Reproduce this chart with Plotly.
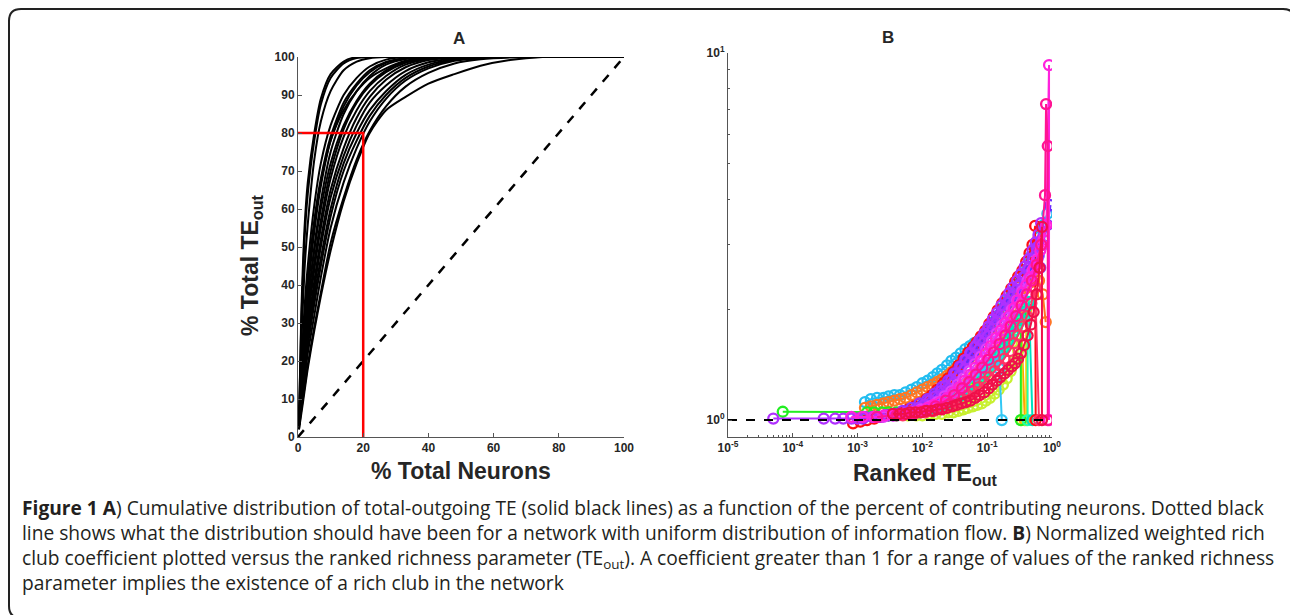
import plotly.graph_objects as go

W, H = 1290, 615

# ---------------- Panel A data ----------------
A_X = [0.3, 1, 2, 3, 5, 7, 10, 14, 18, 22, 27, 33, 40, 48, 56, 65, 75, 100]
A_CURVES = [
    [4, 32, 55, 67, 80, 89, 95.5, 98.8, 100, 100, 100, 100, 100, 100, 100, 100, 100, 100],
    [4, 30, 52, 64, 78, 87.5, 94.5, 98.3, 99.7, 100, 100, 100, 100, 100, 100, 100, 100, 100],
    [3, 24, 44, 56, 73, 83, 91, 96.5, 98.8, 99.7, 100, 100, 100, 100, 100, 100, 100, 100],
    [3, 18, 34, 45, 61, 72, 82, 90, 94.5, 97.5, 99.3, 100, 100, 100, 100, 100, 100, 100],
    [3, 16, 30, 41, 57, 68, 79, 88, 93, 96.5, 98.7, 99.7, 100, 100, 100, 100, 100, 100],
    [3, 15, 28, 38, 54, 66, 78, 87, 92.5, 96, 98.5, 99.6, 100, 100, 100, 100, 100, 100],
    [4, 17, 31, 41, 56, 67, 78, 86, 91, 94.5, 97, 99, 99.8, 100, 100, 100, 100, 100],
    [3, 13, 25, 35, 50, 62, 75, 85, 91, 95, 98, 99.5, 100, 100, 100, 100, 100, 100],
    [3, 14, 26, 35, 49, 60, 72, 82, 88.5, 93, 96.5, 98.8, 99.7, 100, 100, 100, 100, 100],
    [3, 12, 23, 32, 46, 57, 70, 81, 88, 92.5, 96, 98.5, 99.6, 100, 100, 100, 100, 100],
    [3, 11, 21, 30, 44, 55, 68, 79, 86, 91, 95, 98, 99.5, 99.9, 100, 100, 100, 100],
    [3, 10, 20, 28, 41, 52, 65, 76, 84, 89.5, 94, 97.3, 99.2, 99.9, 100, 100, 100, 100],
    [3, 10, 19, 27, 39, 50, 63, 74, 82, 88, 92.5, 96.3, 98.6, 99.7, 100, 100, 100, 100],
    [3, 9, 18, 25, 37, 47, 60, 72, 80, 86, 91, 95.3, 98, 99.4, 99.9, 100, 100, 100],
    [3, 9, 17, 24, 35, 45, 58, 70, 78, 84.5, 90, 94.5, 97.5, 99.2, 99.8, 100, 100, 100],
    [3, 8, 15, 22, 32, 42, 55, 67, 76, 83, 89, 93.8, 97, 99, 99.7, 100, 100, 100],
    [2, 7, 13, 19, 29, 38, 51, 63, 73, 80.5, 87, 92.2, 95.8, 98.3, 99.4, 99.9, 100, 100],
    [2, 6, 12, 18, 28, 37, 49, 62, 72, 80, 86, 89.5, 93, 95.5, 97.7, 99.2, 100, 100],
]
RED_X = [0, 20, 20]
RED_Y = [80, 80, 0]
UNIFORM_X = [0, 100]
UNIFORM_Y = [0, 100]
A_TICKS = [0, 10, 20, 30, 40, 50, 60, 70, 80, 90, 100]
A_XTICKS = [0, 20, 40, 60, 80, 100]

# ---------------- Panel B data ----------------
B_SERIES = [
    ("#22BDF0",
     [0.0013, 0.0016, 0.002, 0.0025, 0.003, 0.0037, 0.0045, 0.0055, 0.0068, 0.0082, 0.01, 0.012, 0.0145, 0.017,
      0.02, 0.024, 0.028, 0.033, 0.039, 0.046, 0.054, 0.063, 0.074, 0.086, 0.1, 0.12, 0.14, 0.17, 0.2, 0.24,
      0.28, 0.33, 0.39, 0.46, 0.54, 0.63, 0.74, 0.85],
     [1.12, 1.14, 1.15, 1.15, 1.16, 1.17, 1.17, 1.19, 1.21, 1.23, 1.26, 1.28, 1.31, 1.34, 1.37, 1.41, 1.45, 1.48,
      1.52, 1.56, 1.59, 1.62, 1.65, 1.70, 1.76, 1.84, 1.92, 2.02, 2.12, 2.24, 2.36, 2.48, 2.62, 2.78, 2.95, 3.15,
      3.4, 3.65]),
    ("#FF7722",
     [0.0013, 0.0016, 0.002, 0.0025, 0.003, 0.0037, 0.0045, 0.0055, 0.0068, 0.0082, 0.01, 0.012, 0.0145, 0.017,
      0.02, 0.024, 0.028, 0.033, 0.039, 0.046, 0.054, 0.063, 0.074, 0.086, 0.1, 0.12, 0.14, 0.17, 0.2, 0.24,
      0.28, 0.33, 0.39, 0.46, 0.54, 0.63, 0.72, 0.8],
     [1.08, 1.09, 1.1, 1.11, 1.12, 1.13, 1.14, 1.15, 1.17, 1.19, 1.21, 1.23, 1.25, 1.27, 1.29, 1.32, 1.35, 1.38,
      1.41, 1.44, 1.48, 1.52, 1.56, 1.61, 1.66, 1.72, 1.79, 1.87, 1.95, 2.04, 2.12, 2.2, 2.28, 2.37, 2.45, 2.4,
      2.2, 1.85]),
    ("#FFA500",
     [0.003, 0.0045, 0.0065, 0.009, 0.012, 0.016, 0.021, 0.027, 0.034, 0.042, 0.052, 0.064, 0.078, 0.095, 0.115,
      0.14, 0.17, 0.2, 0.24, 0.28, 0.33, 0.38],
     [1.04, 1.05, 1.06, 1.08, 1.1, 1.12, 1.15, 1.18, 1.21, 1.25, 1.29, 1.33, 1.38, 1.43, 1.49, 1.55, 1.62, 1.7,
      1.78, 1.87, 1.97, 1.0]),
    ("#FFD000",
     [0.006, 0.009, 0.013, 0.018, 0.024, 0.03, 0.038, 0.047, 0.057, 0.068, 0.08, 0.095, 0.11, 0.13, 0.15, 0.17,
      0.2, 0.23, 0.26, 0.3, 0.35, 0.4, 0.4],
     [1.04, 1.05, 1.06, 1.08, 1.1, 1.12, 1.15, 1.18, 1.21, 1.25, 1.29, 1.33, 1.38, 1.44, 1.5, 1.56, 1.62, 1.68,
      1.75, 1.85, 1.95, 2.0, 1.0]),
    ("#C8F030",
     [0.004, 0.006, 0.008, 0.01, 0.013, 0.016, 0.02, 0.025, 0.03, 0.036, 0.043, 0.05, 0.06, 0.07, 0.082, 0.095,
      0.11, 0.13, 0.15, 0.175, 0.2, 0.23, 0.26, 0.3, 0.34, 0.34],
     [1.03, 1.03, 1.03, 1.03, 1.04, 1.04, 1.04, 1.05, 1.05, 1.06, 1.07, 1.08, 1.09, 1.1, 1.11, 1.13, 1.15, 1.18,
      1.21, 1.25, 1.3, 1.36, 1.45, 1.55, 1.62, 1.0]),
    ("#22EE22",
     [7e-5, 0.0014, 0.0018, 0.0024, 0.003, 0.004, 0.005, 0.0065, 0.008, 0.01, 0.0125, 0.015, 0.019, 0.023, 0.028,
      0.034, 0.041, 0.05, 0.06, 0.072, 0.086, 0.1, 0.12, 0.14, 0.165, 0.19, 0.22, 0.26, 0.3, 0.33, 0.33],
     [1.054, 1.05, 1.05, 1.05, 1.05, 1.05, 1.05, 1.05, 1.06, 1.06, 1.07, 1.08, 1.09, 1.11, 1.13, 1.15, 1.17, 1.2,
      1.23, 1.27, 1.31, 1.36, 1.42, 1.48, 1.55, 1.62, 1.7, 1.8, 1.9, 1.95, 1.0]),
    ("#22FFAA",
     [0.003, 0.0045, 0.0065, 0.009, 0.012, 0.016, 0.021, 0.027, 0.034, 0.042, 0.052, 0.063, 0.075, 0.09, 0.105,
      0.125, 0.145, 0.17, 0.2, 0.23, 0.27, 0.31, 0.36, 0.42, 0.42],
     [1.03, 1.04, 1.05, 1.06, 1.07, 1.08, 1.1, 1.12, 1.14, 1.17, 1.2, 1.24, 1.28, 1.32, 1.37, 1.42, 1.47, 1.53,
      1.6, 1.68, 1.76, 1.85, 1.95, 2.05, 1.0]),
    ("#00E0C0",
     [0.004, 0.006, 0.009, 0.013, 0.018, 0.024, 0.031, 0.04, 0.05, 0.062, 0.076, 0.092, 0.11, 0.13, 0.155, 0.18,
      0.21, 0.25, 0.29, 0.33, 0.38, 0.44, 0.5],
     [1.03, 1.04, 1.05, 1.07, 1.09, 1.11, 1.14, 1.17, 1.2, 1.24, 1.28, 1.33, 1.38, 1.44, 1.5, 1.57, 1.64, 1.72,
      1.8, 1.88, 1.97, 2.1, 1.0]),
    ("#33C8F5",
     [0.005, 0.008, 0.012, 0.017, 0.024, 0.032, 0.042, 0.055, 0.07, 0.085, 0.1, 0.12, 0.14, 0.155, 0.168],
     [1.05, 1.06, 1.08, 1.1, 1.14, 1.18, 1.22, 1.27, 1.32, 1.36, 1.4, 1.45, 1.5, 1.38, 1.0]),
    ("#FF1010",
     [0.00085, 0.0011, 0.0014, 0.0018, 0.0023, 0.003, 0.0038, 0.0048, 0.006, 0.0075, 0.0093, 0.0115, 0.014,
      0.017, 0.021, 0.025, 0.03, 0.036, 0.043, 0.051, 0.06, 0.069, 0.08, 0.093, 0.108, 0.126, 0.145, 0.17, 0.2,
      0.235, 0.27, 0.3, 0.35, 0.4, 0.45, 0.5, 0.55, 0.56],
     [0.98, 0.99, 1.0, 1.01, 1.02, 1.03, 1.04, 1.05, 1.07, 1.09, 1.11, 1.14, 1.17, 1.21, 1.26, 1.3, 1.35, 1.41,
      1.47, 1.53, 1.58, 1.63, 1.69, 1.75, 1.83, 1.91, 1.99, 2.08, 2.18, 2.28, 2.38, 2.46, 2.56, 2.7, 2.85, 3.0,
      3.38, 1.0]),
    ("#6A2BFF",
     [0.002, 0.003, 0.0042, 0.0058, 0.0078, 0.01, 0.0125, 0.015, 0.018, 0.022, 0.026, 0.031, 0.037, 0.044, 0.052,
      0.061, 0.072, 0.085, 0.1, 0.118, 0.14, 0.165, 0.195, 0.23, 0.27, 0.32, 0.38, 0.45, 0.53, 0.62, 0.72, 0.85,
      0.95],
     [1.02, 1.03, 1.04, 1.05, 1.07, 1.1, 1.13, 1.16, 1.2, 1.24, 1.28, 1.33, 1.38, 1.43, 1.48, 1.53, 1.59, 1.65,
      1.72, 1.8, 1.88, 1.97, 2.06, 2.15, 2.25, 2.35, 2.45, 2.55, 2.65, 2.8, 3.0, 3.4, 3.85]),
    ("#9933FF",
     [0.0012, 0.0018, 0.0026, 0.0036, 0.005, 0.0068, 0.009, 0.012, 0.0155, 0.02, 0.025, 0.031, 0.038, 0.046,
      0.056, 0.068, 0.082, 0.1, 0.12, 0.145, 0.175, 0.21, 0.25, 0.3, 0.36, 0.43, 0.5, 0.58, 0.66],
     [1.01, 1.02, 1.03, 1.04, 1.06, 1.08, 1.11, 1.14, 1.18, 1.23, 1.28, 1.34, 1.4, 1.46, 1.53, 1.6, 1.67, 1.75,
      1.83, 1.92, 2.0, 2.1, 2.2, 2.32, 2.45, 2.6, 2.75, 2.95, 2.6]),
    ("#B030FF",
     [5e-5, 3e-4, 4.5e-4, 6e-4, 8e-4, 0.001, 0.0013, 0.0017, 0.0022, 0.0028, 0.0035, 0.0045, 0.0056, 0.007,
      0.0087, 0.0107, 0.013, 0.016, 0.0195, 0.023, 0.028, 0.033, 0.04, 0.047, 0.055, 0.065, 0.076, 0.09, 0.105,
      0.122, 0.142, 0.165, 0.19, 0.22, 0.25, 0.29, 0.33, 0.38, 0.44, 0.5, 0.56, 0.62, 0.68],
     [1.01, 1.01, 1.01, 1.01, 1.01, 1.01, 1.02, 1.02, 1.02, 1.03, 1.03, 1.04, 1.05, 1.06, 1.08, 1.1, 1.13, 1.16,
      1.2, 1.24, 1.29, 1.34, 1.4, 1.46, 1.52, 1.58, 1.65, 1.72, 1.8, 1.88, 1.96, 2.05, 2.13, 2.22, 2.3, 2.4, 2.5,
      2.62, 2.75, 2.9, 3.05, 3.2, 3.44]),
    ("#E040FB",
     [0.0025, 0.0035, 0.005, 0.007, 0.0095, 0.013, 0.017, 0.022, 0.028, 0.035, 0.043, 0.053, 0.065, 0.08, 0.097,
      0.118, 0.14, 0.17, 0.2, 0.24, 0.29, 0.35, 0.42, 0.5, 0.6, 0.7],
     [1.02, 1.03, 1.04, 1.05, 1.07, 1.09, 1.12, 1.16, 1.2, 1.25, 1.3, 1.36, 1.42, 1.49, 1.56, 1.64, 1.72, 1.81,
      1.9, 2.0, 2.12, 2.25, 2.4, 2.55, 2.75, 3.0]),
    ("#FF3366",
     [0.005, 0.0075, 0.011, 0.015, 0.02, 0.026, 0.033, 0.041, 0.05, 0.061, 0.074, 0.09, 0.108, 0.13, 0.155,
      0.185, 0.22, 0.26, 0.3, 0.35, 0.41, 0.48, 0.55, 0.63],
     [1.03, 1.04, 1.05, 1.06, 1.08, 1.1, 1.12, 1.14, 1.17, 1.2, 1.23, 1.27, 1.31, 1.36, 1.41, 1.47, 1.54, 1.62,
      1.7, 1.8, 1.92, 2.08, 2.3, 1.0]),
    ("#FF22DD",
     [0.0008, 0.0012, 0.0018, 0.0026, 0.0036, 0.005, 0.0068, 0.009, 0.012, 0.015, 0.019, 0.024, 0.03, 0.037,
      0.045, 0.055, 0.066, 0.08, 0.095, 0.113, 0.135, 0.16, 0.19, 0.22, 0.26, 0.3, 0.35, 0.4, 0.46, 0.52, 0.58,
      0.66, 0.74, 0.82, 0.9, 0.9],
     [1.02, 1.02, 1.02, 1.03, 1.03, 1.04, 1.05, 1.06, 1.08, 1.1, 1.12, 1.15, 1.19, 1.23, 1.28, 1.33, 1.39, 1.45,
      1.52, 1.59, 1.67, 1.75, 1.84, 1.93, 2.02, 2.12, 2.22, 2.33, 2.45, 2.58, 2.72, 2.9, 3.1, 3.4, 9.27, 1.0]),
    ("#FF1493",
     [0.002, 0.004, 0.007, 0.011, 0.016, 0.023, 0.031, 0.041, 0.053, 0.067, 0.084, 0.104, 0.127, 0.155, 0.19,
      0.23, 0.28, 0.34, 0.41, 0.49, 0.58, 0.68, 0.78, 0.81, 0.86, 0.86],
     [1.02, 1.03, 1.04, 1.06, 1.09, 1.13, 1.17, 1.22, 1.27, 1.33, 1.39, 1.46, 1.53, 1.61, 1.7, 1.8, 1.92, 2.05,
      2.2, 2.4, 2.65, 3.0, 4.1, 7.26, 5.58, 1.0]),
    ("#F0104A",
     [0.0035, 0.0045, 0.0055, 0.0064, 0.0078, 0.0095, 0.0115, 0.014, 0.017, 0.02, 0.024, 0.029, 0.034, 0.04,
      0.047, 0.055, 0.065, 0.076, 0.09, 0.105, 0.12, 0.14, 0.16, 0.185, 0.21, 0.24, 0.27, 0.3, 0.33, 0.37, 0.42,
      0.47, 0.52, 0.58, 0.64, 0.7, 0.7],
     [1.04, 1.04, 1.04, 1.05, 1.05, 1.05, 1.06, 1.06, 1.07, 1.07, 1.08, 1.09, 1.1, 1.11, 1.12, 1.13, 1.15, 1.17,
      1.19, 1.22, 1.25, 1.28, 1.31, 1.34, 1.37, 1.4, 1.43, 1.47, 1.52, 1.6, 1.7, 1.82, 1.97, 2.2, 2.6, 3.36, 1.0]),
]
UNITY_X = [1e-5, 1]
UNITY_Y = [1, 1]
B_XTICKS = [1e-5, 1e-4, 1e-3, 1e-2, 1e-1, 1]
B_XTICKTEXT = ["10<sup>-5</sup>", "10<sup>-4</sup>", "10<sup>-3</sup>", "10<sup>-2</sup>", "10<sup>-1</sup>", "10<sup>0</sup>"]
B_YTICKS = [1, 10]
B_YTICKTEXT = ["10<sup>0</sup>", "10<sup>1</sup>"]
B_XMINOR = [m * 10 ** e for e in range(-5, 0) for m in range(2, 10)]
B_YMINOR = [2, 3, 4, 5, 6, 7, 8, 9]

CAPTION = [
    "<b>Figure 1 A</b>) Cumulative distribution of total-outgoing TE (solid black lines) as a function of the percent of contributing neurons. Dotted black",
    "line shows what the distribution should have been for a network with uniform distribution of information flow. <b>B</b>) Normalized weighted rich",
    "club coefficient plotted versus the ranked richness parameter (TE<sub>out</sub>). A coefficient greater than 1 for a range of values of the ranked richness",
    "parameter implies the existence of a rich club in the network",
]

# ---------------- helpers ----------------
def px(x):
    return x / W

def py(y):
    return 1 - y / H

AX_COL = "#555555"
TXT_COL = "#262626"
FONT = "Liberation Sans, Arial, sans-serif"

fig = go.Figure()

for ys in A_CURVES:
    fig.add_trace(go.Scatter(x=A_X, y=ys, mode="lines", xaxis="x", yaxis="y",
                             line=dict(color="black", width=2, shape="spline", smoothing=0.7),
                             hoverinfo="skip"))
fig.add_trace(go.Scatter(x=UNIFORM_X, y=UNIFORM_Y, mode="lines", xaxis="x", yaxis="y",
                         line=dict(color="black", width=2.5, dash="dash")))
fig.add_trace(go.Scatter(x=RED_X, y=RED_Y, mode="lines", xaxis="x", yaxis="y",
                         line=dict(color="#FF0000", width=2.5)))

for col, xs, ys in B_SERIES:
    fig.add_trace(go.Scatter(x=xs, y=ys, mode="lines+markers", xaxis="x2", yaxis="y2",
                             line=dict(color=col, width=2),
                             marker=dict(symbol="circle-open", size=10, color=col, line=dict(width=2.3, color=col))))
fig.add_trace(go.Scatter(x=UNITY_X, y=UNITY_Y, mode="lines", xaxis="x2", yaxis="y2",
                         line=dict(color="black", width=2, dash="dash")))

tickfont = dict(family=FONT, size=12, color=TXT_COL, weight="bold")
common = dict(showgrid=False, zeroline=False, showline=True, linecolor=AX_COL, linewidth=1, automargin=False,
              ticks="inside", tickcolor=AX_COL, ticklen=4, tickwidth=1, tickfont=tickfont)

fig.update_layout(
    width=W, height=H, margin=dict(l=0, r=0, t=0, b=0, pad=0, autoexpand=False),
    paper_bgcolor="white", plot_bgcolor="rgba(0,0,0,0)", showlegend=False,
    xaxis=dict(domain=[px(298), px(624)], range=[0, 100], tickvals=A_XTICKS, anchor="y", **common),
    yaxis=dict(domain=[py(437), py(57)], range=[0, 100], tickvals=A_TICKS, anchor="x", **common),
    xaxis2=dict(domain=[px(728), px(1052)], type="log", range=[-5, 0], tickvals=B_XTICKS, ticktext=B_XTICKTEXT,
                anchor="y2", minor=dict(tickvals=B_XMINOR, ticks="inside", ticklen=2, tickcolor=AX_COL), **common),
    yaxis2=dict(domain=[py(437), py(53)], type="log", range=[-0.046, 1], tickvals=B_YTICKS, ticktext=B_YTICKTEXT,
                anchor="x2", minor=dict(tickvals=B_YMINOR, ticks="inside", ticklen=2, tickcolor=AX_COL), **common),
)

ann = []
title_font = dict(family=FONT, size=17, color=TXT_COL, weight="bold")
label_font = dict(family=FONT, size=23, color=TXT_COL, weight="bold")

def add_ann(text, x, y, font, xanchor="center", yanchor="middle", angle=0, align="center"):
    ann.append(dict(text=text, x=px(x), y=py(y), xref="paper", yref="paper", showarrow=False,
                    xanchor=xanchor, yanchor=yanchor, textangle=angle, font=font, align=align))

add_ann("A", 459, 38.5, title_font)
add_ann("B", 888, 37, title_font)
add_ann("% Total Neurons", 461, 471, label_font)
add_ann("% Total TE<sub>out</sub>", 251, 265, label_font, angle=-90)
add_ann("Ranked TE<sub>out</sub>", 925, 474, label_font)

# caption as a single multi-line text block
cap_font = dict(family="Open Sans, sans-serif", size=19.2, color="#231F20")
add_ann("<br>".join(CAPTION), 20, 545, cap_font, xanchor="left", align="left")
fig.update_layout(annotations=ann)

# rounded frame; right and bottom sides lie just beyond the visible page
x0, x1 = px(9), px(1295)
yt, yb = py(9), py(618)
rx, ry = 12 / W, 12 / H
path = (f"M {x0},{yb + ry} L {x0},{yt - ry} Q {x0},{yt} {x0 + rx},{yt} L {x1 - rx},{yt} "
        f"Q {x1},{yt} {x1},{yt - ry} L {x1},{yb + ry} Q {x1},{yb} {x1 - rx},{yb} L {x0 + rx},{yb} "
        f"Q {x0},{yb} {x0},{yb + ry} Z")
fig.add_shape(type="path", path=path, xref="paper", yref="paper", line=dict(color="#222222", width=2),
              fillcolor="rgba(0,0,0,0)", layer="above")

fig.write_html("out.html", config={"displayModeBar": False, "staticPlot": True},
               post_script="document.body.style.margin='0';document.body.style.padding='0';document.body.style.overflow='hidden';")
